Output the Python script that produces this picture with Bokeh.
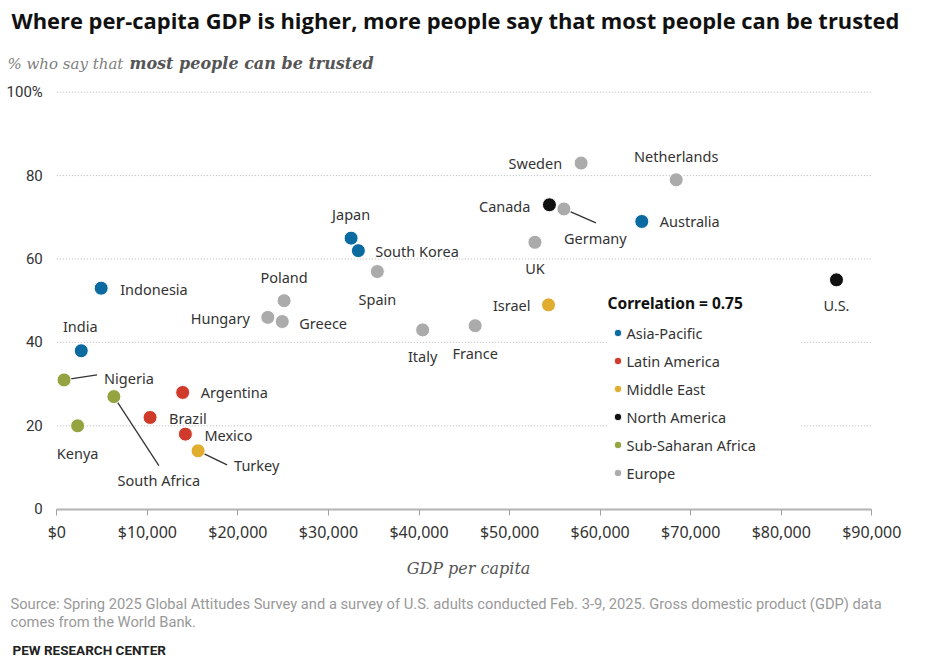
from bokeh.plotting import figure
from bokeh.models import (ColumnDataSource, Legend, LegendItem, FixedTicker, LinearAxis,
                          NumeralTickFormatter, Range1d)
from bokeh.core.properties import value
from bokeh.embed import file_html
from bokeh.resources import INLINE

# ---------------- data ----------------
countries = ["Sweden", "Netherlands", "Canada", "Germany", "Australia", "UK", "Israel", "U.S.",
             "Japan", "South Korea", "Spain", "Poland", "Hungary", "Greece", "Italy", "France",
             "Indonesia", "India", "Nigeria", "South Africa", "Kenya", "Argentina", "Brazil",
             "Mexico", "Turkey"]
gdp = [57900, 68400, 54400, 56000, 64600, 52800, 54300, 86100,
       32500, 33300, 35400, 25100, 23300, 24900, 40400, 46200,
       4900, 2700, 800, 6300, 2300, 13900, 10300,
       14200, 15600]
trust = [83, 79, 73, 72, 69, 64, 49, 55,
         65, 62, 57, 50, 46, 45, 43, 44,
         53, 38, 31, 27, 20, 28, 22,
         18, 14]
region = ["Europe", "Europe", "North America", "Europe", "Asia-Pacific", "Europe", "Middle East", "North America",
          "Asia-Pacific", "Asia-Pacific", "Europe", "Europe", "Europe", "Europe", "Europe", "Europe",
          "Asia-Pacific", "Asia-Pacific", "Sub-Saharan Africa", "Sub-Saharan Africa", "Sub-Saharan Africa",
          "Latin America", "Latin America", "Latin America", "Middle East"]
regions = ["Asia-Pacific", "Latin America", "Middle East", "North America", "Sub-Saharan Africa", "Europe"]
x_ticks = [0, 10000, 20000, 30000, 40000, 50000, 60000, 70000, 80000, 90000]
y_ticks = [0, 20, 40, 60, 80, 100]
correlation = "0.75"

title_text = "Where per-capita GDP is higher, more people say that most people can be trusted"
subtitle_a = "% who say that"
subtitle_b = "most people can be trusted"
x_label = "GDP per capita"
source_lines = ["Source: Spring 2025 Global Attitudes Survey and a survey of U.S. adults conducted Feb. 3-9, 2025. "
                "Gross domestic product (GDP) data",
                "comes from the World Bank."]
credit = "PEW RESEARCH CENTER"

# ---------------- styling / layout ----------------
region_colors = {"Asia-Pacific": "#0b6aa0", "Latin America": "#cf3a2a", "Middle East": "#e0ad2e",
                 "North America": "#111111", "Sub-Saharan Africa": "#95a440", "Europe": "#ababab"}
# label placement relative to the dot, in pixels: (align, dx, dy)
label_pos = {
    "Sweden": ("right", -19, 0), "Netherlands": ("center", 0, -24), "Canada": ("right", -19, 1),
    "Germany": ("left", 0, 29), "Australia": ("left", 18, 0), "UK": ("center", 0, 26),
    "Israel": ("right", -18, 0), "U.S.": ("center", 0, 25), "Japan": ("center", 0, -24),
    "South Korea": ("left", 17, 0), "Spain": ("center", 0, 27), "Poland": ("center", 0, -24),
    "Hungary": ("right", -18, 1), "Greece": ("left", 17, 1), "Italy": ("center", 0, 26),
    "France": ("center", 0, 27), "Indonesia": ("left", 19, 1), "India": ("center", -1, -25),
    "Nigeria": ("left", 40, -2), "South Africa": ("center", 45, 83), "Kenya": ("center", 0, 27),
    "Argentina": ("left", 18, 0), "Brazil": ("left", 19, 1), "Mexico": ("left", 19, 1),
    "Turkey": ("left", 36, 14),
}
# leader lines: end point relative to dot, in pixels
leaders = {"Germany": (32, 14), "Nigeria": (33, -5), "South Africa": (45, 69), "Turkey": (29, 14)}

# canvas geometry (pixels)
W, H = 918, 660
OX, OY = 2, 0                     # where the canvas sits on the page
PLOT_L, PLOT_R = 58.3, 873.3      # page x of $0 and $90,000
PLOT_T, PLOT_B = 91.7, 508.7      # page y of 100% and 0
XMAX, YMAX = 90000, 100
kx = (PLOT_R - PLOT_L) / XMAX
ky = (PLOT_B - PLOT_T) / YMAX


def px_x(page_x):
    return (page_x - PLOT_L) / kx


def px_y(page_y):
    return (PLOT_B - page_y) / ky


LABEL_FONT = "Noto Sans"
TEXT_COLOR = "#333333"

p = figure(frame_width=W, frame_height=H,
           x_range=Range1d(px_x(OX), px_x(OX + W)), y_range=Range1d(px_y(OY + H), px_y(OY)),
           x_axis_location=None, y_axis_location=None, min_border=0,
           output_backend="svg", toolbar_location=None, outline_line_color=None,
           background_fill_color="white", border_fill_color="white")
p.grid.visible = False

# dotted gridlines across the plotting area
grid_y = [t for t in y_ticks if t > 0]
p.segment(x0=[0] * len(grid_y), x1=[XMAX] * len(grid_y), y0=grid_y, y1=grid_y,
          line_color="#b8b8b8", line_dash="1 2", line_width=1)

# axes fixed at zero
xa = LinearAxis(fixed_location=0, bounds=(0, XMAX))
xa.ticker = FixedTicker(ticks=x_ticks)
xa.formatter = NumeralTickFormatter(format="$0,0")
xa.axis_line_color = "#b3b3b3"
xa.axis_line_width = 2
xa.major_tick_line_color = "#a0a0a0"
xa.major_tick_out = 6
xa.major_tick_in = 0
xa.minor_tick_line_color = None
xa.major_label_text_font = LABEL_FONT
xa.major_label_text_font_size = "16px"
xa.major_label_text_color = TEXT_COLOR
xa.major_label_standoff = 6
p.add_layout(xa, "below")

ya = LinearAxis(fixed_location=0, bounds=(0, YMAX))
ya.ticker = FixedTicker(ticks=y_ticks)
ya.major_label_overrides = {100: "100%"}
ya.axis_line_color = None
ya.major_tick_line_color = None
ya.major_tick_out = 0
ya.major_tick_in = 0
ya.minor_tick_line_color = None
ya.minor_tick_out = 0
ya.major_label_text_font = "Roboto"
ya.major_label_text_font_size = "15px"
ya.major_label_text_color = TEXT_COLOR
ya.major_label_standoff = 14
p.add_layout(ya, "left")

# leader lines
lx0, ly0, lx1, ly1 = [], [], [], []
for c, (ex, ey) in leaders.items():
    i = countries.index(c)
    lx0.append(gdp[i]); ly0.append(trust[i])
    lx1.append(gdp[i] + ex / kx); ly1.append(trust[i] - ey / ky)
p.segment(x0=lx0, y0=ly0, x1=lx1, y1=ly1, line_color="#333333", line_width=1.3)

# points per region
items = []
for r in regions:
    idx = [i for i, reg in enumerate(region) if reg == r]
    src = ColumnDataSource(dict(x=[gdp[i] for i in idx], y=[trust[i] for i in idx]))
    rr = p.scatter("x", "y", source=src, size=14, fill_color=region_colors[r],
                   line_color="white", line_width=1)
    items.append(LegendItem(label=r, renderers=[rr]))

# country labels
for align in ["left", "right", "center"]:
    names = [c for c in countries if label_pos[c][0] == align]
    src = ColumnDataSource(dict(
        x=[gdp[countries.index(c)] for c in names],
        y=[trust[countries.index(c)] for c in names],
        t=names,
        dx=[label_pos[c][1] for c in names],
        dy=[label_pos[c][2] for c in names]))
    p.text("x", "y", text="t", source=src, x_offset="dx", y_offset="dy",
           text_align=align, text_baseline="middle", text_font=value(LABEL_FONT),
           text_font_size="14.5px", text_color=TEXT_COLOR)

legend = Legend(items=items, location=(609.5 - OX, H - (482.7 - OY)), title="Correlation = " + correlation,
                title_text_font=LABEL_FONT, title_text_font_style="bold",
                title_text_font_size="15.5px", title_text_color="#111111", title_standoff=9,
                label_text_font=LABEL_FONT, label_text_font_size="14.5px",
                label_text_color=TEXT_COLOR, glyph_width=19, glyph_height=19,
                label_standoff=0, label_width=174, label_height=20, spacing=8,
                padding=4, margin=0, border_line_color=None,
                background_fill_color="white", background_fill_alpha=1.0)
p.add_layout(legend, "center")


# ---------------- titles and notes (positioned in page pixels) ----------------
def note(text, page_x, page_y, size, font, color, style="normal", align="left"):
    p.text(x=[px_x(page_x)], y=[px_y(page_y)], text=[text], text_font=value(font),
           text_font_style=style, text_font_size=size, text_color=color,
           text_align=align, text_baseline="middle")


note(title_text, 13, 20, "21.9px", "Open Sans", "#111111", "bold")
note(subtitle_a, 9, 63, "15px", "DejaVu Serif", "#808080", "italic")
note(subtitle_b, 131, 63, "16px", "DejaVu Serif", "#555555", "bold italic")
note(x_label, 470, 568, "16px", "DejaVu Serif", "#555555", "italic", "center")
note(source_lines[0], 12, 603, "14.7px", "Roboto", "#999999")
note(source_lines[1], 12, 621.5, "14.7px", "Roboto", "#999999")
note(credit, 14, 649, "13.5px", "Roboto", "#222222", "bold")

open("out.html", "w").write(file_html(p, INLINE))
